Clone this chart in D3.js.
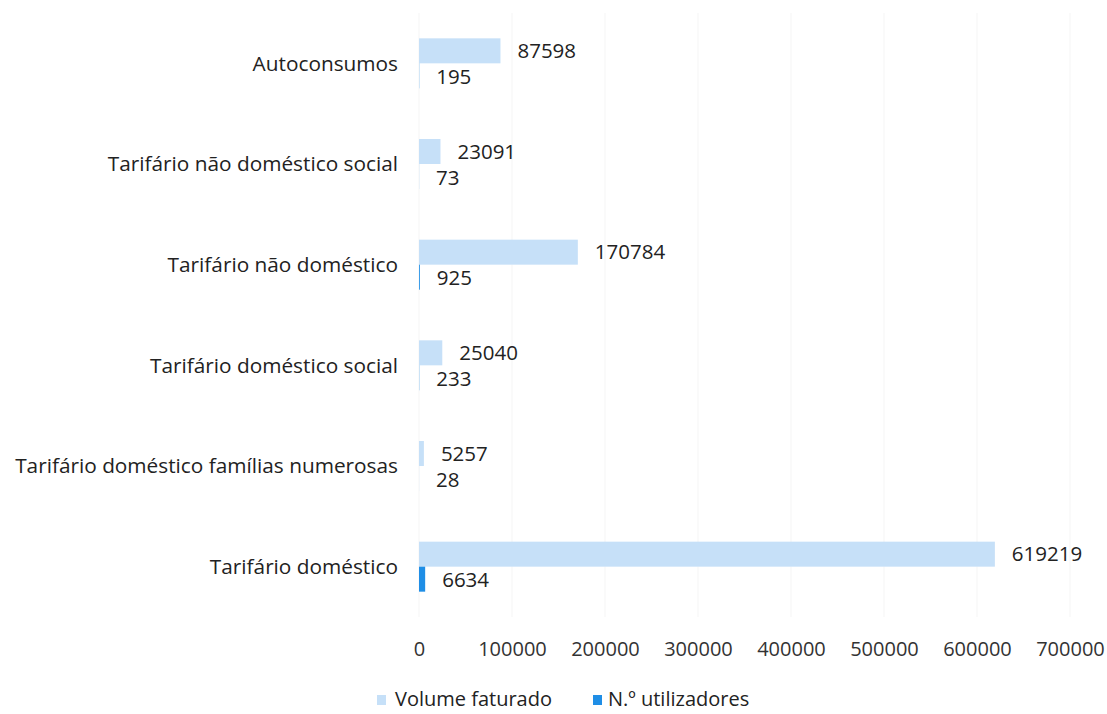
<!DOCTYPE html>
<html>
<head>
<meta charset="utf-8">
<script src="https://cdn.jsdelivr.net/npm/d3@7"></script>
<style>
body { margin: 0; background: #fff; }
text { font-family: "Open Sans", "Noto Sans", sans-serif; fill: #222; }
.grid line { stroke: #f5f5f5; stroke-width: 1; }
.xlab text { fill: #333; }
</style>
</head>
<body>
<svg id="chart" width="1107" height="714"></svg>
<script>
// categories, top to bottom
var categories = [
	"Autoconsumos",
	"Tarifário não doméstico social",
	"Tarifário não doméstico",
	"Tarifário doméstico social",
	"Tarifário doméstico famílias numerosas",
	"Tarifário doméstico"
];
var volumeFaturado = [87598, 23091, 170784, 25040, 5257, 619219];
var nUtilizadores = [195, 73, 925, 233, 28, 6634];
var seriesNames = ["Volume faturado", "N.º utilizadores"];
var seriesColors = ["#c6e0f8", "#1f8ee6"];
var xTicks = [0, 100000, 200000, 300000, 400000, 500000, 600000, 700000];

var svg = d3.select("#chart");

var x = d3.scaleLinear().domain([0, 700000]).range([419, 1070]);
var y = d3.scaleBand().domain(categories).range([13, 617]);
var barH = 25;

// faint grid
svg.append("g").attr("class", "grid")
	.selectAll("line")
	.data(xTicks)
	.enter()
	.append("line")
		.attr("x1", d => x(d)).attr("x2", d => x(d))
		.attr("y1", 13).attr("y2", 617);

// x axis labels
var xAxis = d3.axisBottom(x).tickValues(xTicks).tickSize(0).tickPadding(0).tickFormat(d3.format("d"));
svg.append("g").attr("class", "xlab")
	.attr("transform", "translate(0,642)")
	.call(xAxis)
	.call(g => g.select(".domain").remove())
	.selectAll("text")
		.style("font-size", "20px")
		.style("font-family", "'Open Sans', sans-serif");

// category labels
svg.append("g")
	.selectAll("text")
	.data(categories)
	.enter()
	.append("text")
		.attr("x", 398)
		.attr("y", d => y(d) + y.bandwidth() / 2)
		.attr("dy", "0.35em")
		.attr("text-anchor", "end")
		.style("font-size", "20.8px")
		.text(d => d);

var rows = categories.map((c, i) => ({cat: c, v: volumeFaturado[i], n: nUtilizadores[i]}));

// volume bars
svg.append("g")
	.selectAll("rect")
	.data(rows)
	.enter()
	.append("rect")
		.attr("x", x(0))
		.attr("y", d => y(d.cat) + y.bandwidth() / 2 - barH)
		.attr("width", d => x(d.v) - x(0))
		.attr("height", barH)
		.attr("fill", seriesColors[0]);

// utilizadores bars
svg.append("g")
	.selectAll("rect")
	.data(rows)
	.enter()
	.append("rect")
		.attr("x", x(0))
		.attr("y", d => y(d.cat) + y.bandwidth() / 2)
		.attr("width", d => x(d.n) - x(0))
		.attr("height", barH)
		.attr("fill", seriesColors[1]);

// value labels
svg.append("g")
	.selectAll("text")
	.data(rows)
	.enter()
	.append("text")
		.attr("x", d => x(d.v) + 17)
		.attr("y", d => y(d.cat) + y.bandwidth() / 2 - barH / 2)
		.attr("dy", "0.35em")
		.style("font-size", "20.5px")
		.text(d => d.v);

svg.append("g")
	.selectAll("text")
	.data(rows)
	.enter()
	.append("text")
		.attr("x", d => x(d.n) + 17)
		.attr("y", d => y(d.cat) + y.bandwidth() / 2 + barH / 2 + 1)
		.attr("dy", "0.35em")
		.style("font-size", "20.5px")
		.text(d => d.n);

// legend
var legendX = [377, 593];
var legend = svg.append("g")
	.selectAll("g")
	.data(seriesNames)
	.enter()
	.append("g")
		.attr("transform", (d, i) => "translate(" + legendX[i] + ",699)");
legend.append("rect")
	.attr("x", 0).attr("y", -4).attr("width", 9).attr("height", 10)
	.attr("fill", (d, i) => seriesColors[i]);
legend.append("text")
	.attr("x", (d, i) => i == 0 ? 18 : 15)
	.attr("dy", "0.35em")
	.style("font-size", "20px")
	.text(d => d);
</script>
</body>
</html>
